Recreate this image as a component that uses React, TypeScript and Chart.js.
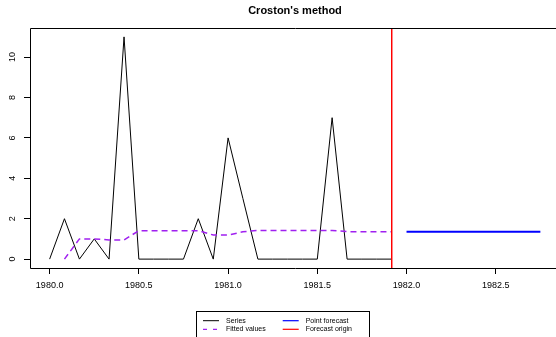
import React, { useEffect, useRef } from "react";
import { Chart, registerables } from "chart.js";

Chart.register(...registerables);

const chartTitle = "Croston's method";

const seriesTimes = [
  1980.0, 1980.083, 1980.167, 1980.25, 1980.333, 1980.417, 1980.5, 1980.583,
  1980.667, 1980.75, 1980.833, 1980.917, 1981.0, 1981.083, 1981.167, 1981.25,
  1981.333, 1981.417, 1981.5, 1981.583, 1981.667, 1981.75, 1981.833, 1981.917,
];
const seriesValues = [0, 2, 0, 1, 0, 11, 0, 0, 0, 0, 2, 0, 6, 3, 0, 0, 0, 0, 0, 7, 0, 0, 0, 0];
const fittedValues = [
  null, 0, 1.0, 1.0, 0.95, 0.95, 1.41, 1.41, 1.41, 1.41, 1.41, 1.19, 1.19, 1.35,
  1.42, 1.42, 1.42, 1.42, 1.42, 1.42, 1.36, 1.36, 1.36, 1.36,
];
const forecastTimes = [
  1982.0, 1982.083, 1982.167, 1982.25, 1982.333, 1982.417, 1982.5, 1982.583, 1982.667, 1982.75,
];
const forecastValues = [1.36, 1.36, 1.36, 1.36, 1.36, 1.36, 1.36, 1.36, 1.36, 1.36];
const forecastOrigin = 1981.917;

const xTicks = [1980.0, 1980.5, 1981.0, 1981.5, 1982.0, 1982.5];
const yTicks = [0, 2, 4, 6, 8, 10];
const xMin = 1979.89;
const xMax = 1982.86;
const yMin = -0.44;
const yMax = 11.44;

const legendLabels = ["Series", "Fitted values", "Point forecast", "Forecast origin"];

const FONT = "'Liberation Sans', Arial, Helvetica, sans-serif";
const COL_SERIES = "#000000";
const COL_FITTED = "#A020F0";
const COL_FORECAST = "#0000FF";
const COL_ORIGIN = "#FF0000";

const decorPlugin = {
  id: "rDecor",
  afterDraw(chart: any) {
    const ctx = chart.ctx;
    const area = chart.chartArea;
    const yScale = chart.scales.y;
    ctx.save();
    // box
    ctx.strokeStyle = "#000";
    ctx.lineWidth = 1;
    ctx.beginPath();
    ctx.rect(Math.round(area.left) + 0.5, Math.round(area.top) + 0.5, area.right - area.left, Math.round(area.bottom) - Math.round(area.top));
    ctx.stroke();

    // y tick labels rotated
    ctx.fillStyle = "#000";
    ctx.font = `9px ${FONT}`;
    ctx.textAlign = "center";
    ctx.textBaseline = "middle";
    yTicks.forEach((v) => {
      const py = yScale.getPixelForValue(v);
      ctx.save();
      ctx.translate(13, py);
      ctx.rotate(-Math.PI / 2);
      ctx.fillText(String(v), 0, 0);
      ctx.restore();
    });

    // title
    ctx.font = `bold 11px ${FONT}`;
    ctx.textAlign = "center";
    ctx.textBaseline = "middle";
    ctx.fillText(chartTitle, (area.left + area.right) / 2, 11);

    // legend
    const bx = 196.5, by = 311.5, bw = 173, bh = 30;
    ctx.strokeStyle = "#000";
    ctx.lineWidth = 1;
    ctx.strokeRect(bx, by, bw, bh);
    const rows = [320.7, 329.3];
    const items = [
      { label: legendLabels[0], color: COL_SERIES, dash: [] as number[], col: 0, row: 0, w: 1 },
      { label: legendLabels[1], color: COL_FITTED, dash: [4, 6], col: 0, row: 1, w: 1.2 },
      { label: legendLabels[2], color: COL_FORECAST, dash: [] as number[], col: 1, row: 0, w: 1.2 },
      { label: legendLabels[3], color: COL_ORIGIN, dash: [] as number[], col: 1, row: 1, w: 1.2 },
    ];
    const colX = [203, 282.7];
    ctx.font = `7px ${FONT}`;
    ctx.textAlign = "left";
    ctx.textBaseline = "middle";
    items.forEach((it) => {
      const x0 = colX[it.col];
      const y = rows[it.row];
      ctx.strokeStyle = it.color;
      ctx.lineWidth = it.w;
      ctx.setLineDash(it.dash);
      ctx.beginPath();
      ctx.moveTo(x0, y);
      ctx.lineTo(x0 + 16, y);
      ctx.stroke();
      ctx.setLineDash([]);
      ctx.fillStyle = "#000";
      ctx.fillText(it.label, x0 + 23, y);
    });
    ctx.restore();
  },
};

export default function App() {
  const canvasRef = useRef<HTMLCanvasElement | null>(null);

  useEffect(() => {
    const canvas = canvasRef.current;
    if (!canvas) return;
    const chart = new Chart(canvas, {
      type: "line",
      data: {
        datasets: [
          {
            label: "Forecast origin",
            data: [
              { x: forecastOrigin, y: yMin },
              { x: forecastOrigin, y: yMax },
            ],
            borderColor: COL_ORIGIN,
            borderWidth: 1.5,
            pointRadius: 0,
            order: 0,
          },
          {
            label: "Point forecast",
            data: forecastTimes.map((t, i) => ({ x: t, y: forecastValues[i] })),
            borderColor: COL_FORECAST,
            borderWidth: 2,
            pointRadius: 0,
            order: 1,
          },
          {
            label: "Fitted values",
            data: seriesTimes.map((t, i) => ({ x: t, y: fittedValues[i] })),
            borderColor: COL_FITTED,
            borderWidth: 1.5,
            borderDash: [6, 4],
            pointRadius: 0,
            spanGaps: false,
            order: 2,
          },
          {
            label: "Series",
            data: seriesTimes.map((t, i) => ({ x: t, y: seriesValues[i] })),
            borderColor: COL_SERIES,
            borderWidth: 1,
            pointRadius: 0,
            order: 3,
          },
        ],
      },
      options: {
        animation: false,
        responsive: false,
        maintainAspectRatio: false,
        layout: { padding: { top: 28, left: 0, right: 0, bottom: 0 } },
        plugins: {
          legend: { display: false },
          title: { display: false },
          tooltip: { enabled: false },
        },
        elements: { line: { tension: 0 }, point: { radius: 0 } },
        scales: {
          x: {
            type: "linear",
            position: "bottom",
            min: xMin,
            max: xMax,
            afterBuildTicks: (s: any) => {
              s.ticks = xTicks.map((v) => ({ value: v }));
            },
            afterFit: (s: any) => {
              s.height = 69;
            },
            ticks: {
              autoSkip: false,
              maxRotation: 0,
              minRotation: 0,
              padding: 6,
              color: "#000",
              font: { family: FONT, size: 9 },
              callback: (v: any) => Number(v).toFixed(1),
            },
            grid: {
              drawOnChartArea: false,
              drawTicks: true,
              tickLength: 6,
              color: "#000",
              lineWidth: 1,
            },
            border: { display: false },
          },
          y: {
            type: "linear",
            position: "left",
            min: yMin,
            max: yMax,
            afterBuildTicks: (s: any) => {
              s.ticks = yTicks.map((v) => ({ value: v }));
            },
            afterFit: (s: any) => {
              s.width = 30;
            },
            ticks: {
              autoSkip: false,
              color: "rgba(0,0,0,0)",
              font: { family: FONT, size: 9 },
            },
            grid: {
              drawOnChartArea: false,
              drawTicks: true,
              tickLength: 6,
              color: "#000",
              lineWidth: 1,
            },
            border: { display: false },
          },
        },
      },
      plugins: [decorPlugin],
    } as any);
    return () => chart.destroy();
  }, []);

  return (
    <div
      style={{
        position: "fixed",
        left: 0,
        top: 0,
        width: 556,
        height: 337,
        overflow: "hidden",
        background: "#fff",
      }}
    >
      <canvas ref={canvasRef} width={560} height={337} style={{ display: "block" }} />
    </div>
  );
}
